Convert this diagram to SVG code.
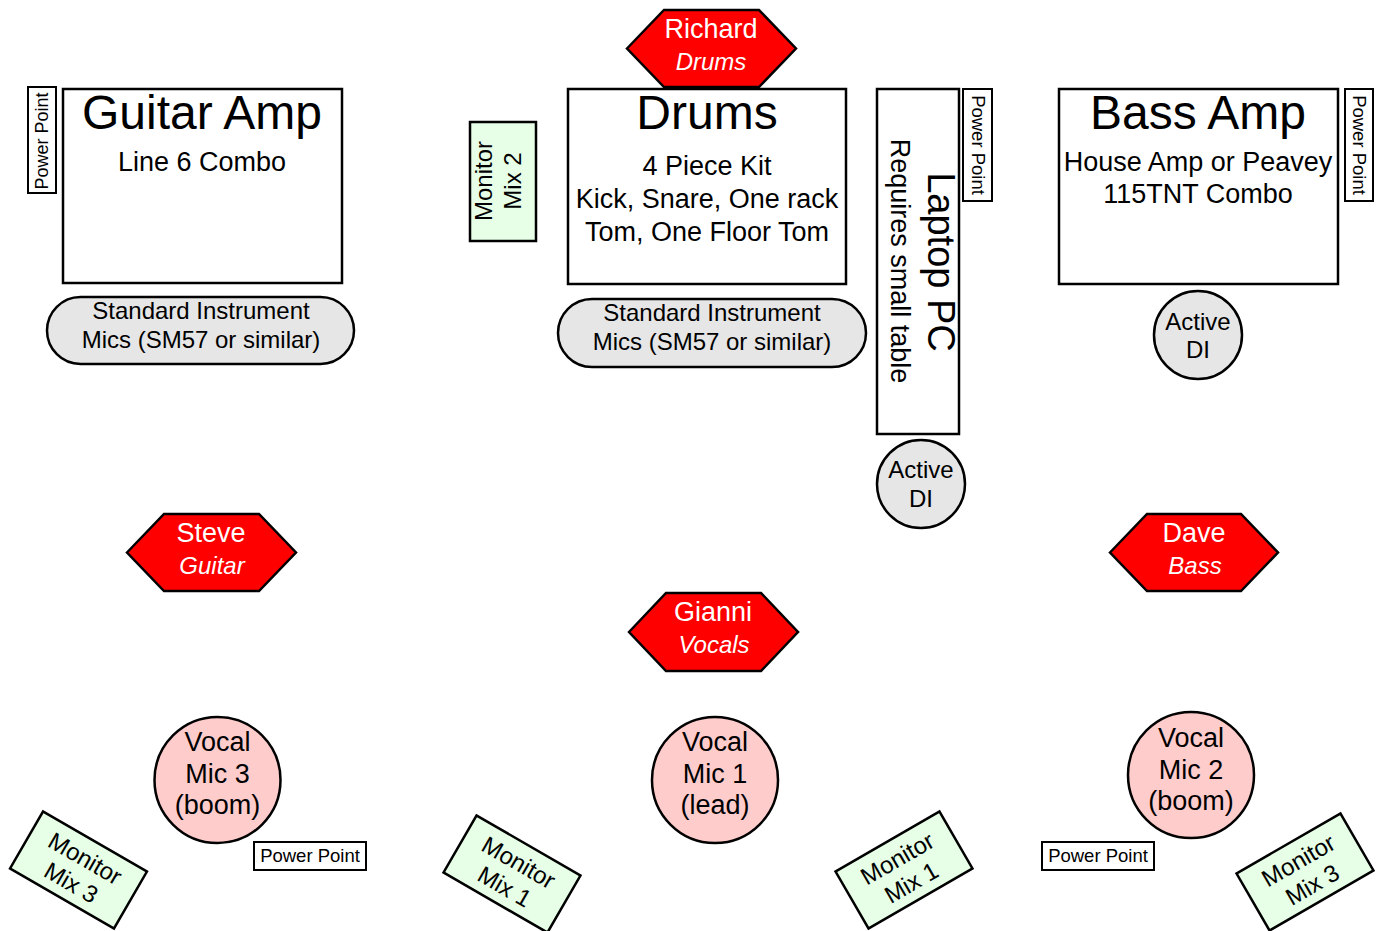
<svg xmlns="http://www.w3.org/2000/svg" width="1379" height="931" viewBox="0 0 1379 931">
<style>
text{font-family:"Liberation Sans",Arial,sans-serif;fill:#000;text-anchor:middle}
.box{fill:#fff;stroke:#000;stroke-width:2.5}
.pp{fill:#fff;stroke:#000;stroke-width:2}
.mon{fill:#e6ffe6;stroke:#000;stroke-width:2.5}
.grey{fill:#e6e6e6;stroke:#000;stroke-width:2.5}
.pink{fill:#ffcccc;stroke:#000;stroke-width:2.5}
.hex{fill:#ff0000;stroke:#000;stroke-width:2.5}
.title{font-size:48px}
.sub{font-size:27px}
.mid{font-size:24px}
.small{font-size:18.5px}
.name{font-size:27px;fill:#fff}
.role{font-size:24px;font-style:italic;fill:#fff}
</style>
<rect width="1379" height="931" fill="#fff"/>
<g id="connectors"/>

<g id="guitar-amp">
<rect class="box" x="63" y="89" width="279" height="194"/>
<text class="title" x="202" y="129">Guitar Amp</text>
<text class="sub" x="202" y="171">Line 6 Combo</text>
</g>
<g id="pp-guitar">
<rect class="pp" x="28" y="87" width="28" height="106"/>
<text class="small" x="48" y="141" font-size="18" style="font-size:18px" transform="rotate(-90 48 141)">Power Point</text>
</g>
<g id="mics-guitar">
<rect class="grey" x="47" y="297" width="307" height="67" rx="33.5"/>
<text class="mid" x="201" y="319">Standard Instrument</text>
<text class="mid" x="201" y="348">Mics (SM57 or similar)</text>
</g>

<g id="monitor-mix-2">
<rect class="mon" x="470" y="122" width="66" height="119"/>
<text class="mid" x="492" y="181" transform="rotate(-90 492 181)">Monitor</text>
<text class="mid" x="521" y="181" transform="rotate(-90 521 181)">Mix 2</text>
</g>

<g id="richard">
<polygon class="hex" points="627,48.5 664,10 759,10 796,48.5 759,87 664,87"/>
<text class="name" x="711" y="38">Richard</text>
<text class="role" x="711" y="70">Drums</text>
</g>

<g id="drums">
<rect class="box" x="568" y="89" width="278" height="195"/>
<text class="title" x="707" y="129">Drums</text>
<text class="sub" x="707" y="175">4 Piece Kit</text>
<text class="sub" x="707" y="208">Kick, Snare, One rack</text>
<text class="sub" x="707" y="241">Tom, One Floor Tom</text>
</g>
<g id="mics-drums">
<rect class="grey" x="558" y="299" width="308" height="68" rx="34"/>
<text class="mid" x="712" y="321">Standard Instrument</text>
<text class="mid" x="712" y="350">Mics (SM57 or similar)</text>
</g>

<g id="laptop">
<rect class="box" x="877" y="89" width="82" height="345"/>
<text x="928" y="262" font-size="38" transform="rotate(90 928 262)">Laptop PC</text>
<text class="sub" x="891" y="261" transform="rotate(90 891 261)">Requires small table</text>
</g>
<g id="pp-laptop">
<rect class="pp" x="963" y="89" width="29" height="112"/>
<text class="small" x="972" y="145" transform="rotate(90 972 145)">Power Point</text>
</g>
<g id="di-laptop">
<circle class="grey" cx="921" cy="484" r="44"/>
<text class="mid" x="921" y="478">Active</text>
<text class="mid" x="921" y="507">DI</text>
</g>

<g id="bass-amp">
<rect class="box" x="1059" y="89" width="279" height="195"/>
<text class="title" x="1198" y="129">Bass Amp</text>
<text class="sub" x="1198" y="171">House Amp or Peavey</text>
<text class="sub" x="1198" y="203">115TNT Combo</text>
</g>
<g id="pp-bass">
<rect class="pp" x="1345" y="89" width="28" height="112"/>
<text class="small" x="1353" y="145" transform="rotate(90 1353 145)">Power Point</text>
</g>
<g id="di-bass">
<circle class="grey" cx="1198" cy="335" r="44"/>
<text class="mid" x="1198" y="330">Active</text>
<text class="mid" x="1198" y="358">DI</text>
</g>

<g id="steve">
<polygon class="hex" points="127,552.5 164,514 259,514 296,552.5 259,591 164,591"/>
<text class="name" x="211" y="542">Steve</text>
<text class="role" x="212" y="574">Guitar</text>
</g>
<g id="gianni">
<polygon class="hex" points="629,632 666,593 761,593 798,632 761,671 666,671"/>
<text class="name" x="713" y="621">Gianni</text>
<text class="role" x="714" y="653">Vocals</text>
</g>
<g id="dave">
<polygon class="hex" points="1110,552.5 1147,514 1241,514 1278,552.5 1241,591 1147,591"/>
<text class="name" x="1194" y="542">Dave</text>
<text class="role" x="1195" y="574">Bass</text>
</g>

<g id="vocal-mic-3">
<circle class="pink" cx="217.5" cy="780" r="63"/>
<text class="sub" x="217.5" y="751">Vocal</text>
<text class="sub" x="217.5" y="783">Mic 3</text>
<text class="sub" x="217.5" y="814">(boom)</text>
</g>
<g id="vocal-mic-1">
<circle class="pink" cx="715" cy="780" r="63"/>
<text class="sub" x="715" y="751">Vocal</text>
<text class="sub" x="715" y="783">Mic 1</text>
<text class="sub" x="715" y="814">(lead)</text>
</g>
<g id="vocal-mic-2">
<circle class="pink" cx="1191" cy="775" r="63"/>
<text class="sub" x="1191" y="747">Vocal</text>
<text class="sub" x="1191" y="779">Mic 2</text>
<text class="sub" x="1191" y="810">(boom)</text>
</g>

<g id="pp-left-bottom">
<rect class="pp" x="254" y="842" width="112" height="28"/>
<text class="small" x="310" y="862">Power Point</text>
</g>
<g id="pp-right-bottom">
<rect class="pp" x="1042" y="842" width="112" height="28"/>
<text class="small" x="1098" y="862">Power Point</text>
</g>

<g id="monitor-mix-3-left" transform="translate(78.5 870) rotate(30)">
<rect class="mon" x="-60" y="-33" width="120" height="66"/>
<text class="mid" x="0" y="-5">Monitor</text>
<text class="mid" x="0" y="23">Mix 3</text>
</g>
<g id="monitor-mix-1-left" transform="translate(512 874) rotate(30)">
<rect class="mon" x="-60" y="-33" width="120" height="66"/>
<text class="mid" x="0" y="-5">Monitor</text>
<text class="mid" x="0" y="23">Mix 1</text>
</g>
<g id="monitor-mix-1-right" transform="translate(904 870) rotate(-30)">
<rect class="mon" x="-60" y="-33" width="120" height="66"/>
<text class="mid" x="0" y="-5">Monitor</text>
<text class="mid" x="0" y="23">Mix 1</text>
</g>
<g id="monitor-mix-3-right" transform="translate(1305 872) rotate(-30)">
<rect class="mon" x="-60" y="-33" width="120" height="66"/>
<text class="mid" x="0" y="-5">Monitor</text>
<text class="mid" x="0" y="23">Mix 3</text>
</g>
</svg>
